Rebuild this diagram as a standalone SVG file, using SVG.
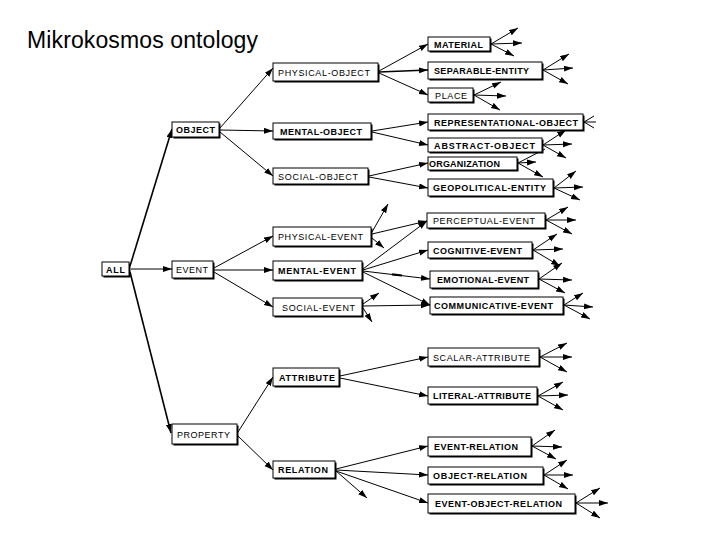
<svg xmlns="http://www.w3.org/2000/svg" width="720" height="540" viewBox="0 0 720 540">
<style>
.bx{fill:#fff;stroke:#000;stroke-width:1}
.sh{fill:#000}
.t{font-family:"Liberation Sans",Arial,sans-serif;font-size:9px;fill:#000}
.b{font-weight:bold}
.c line{stroke:#000;stroke-width:1;marker-end:url(#ah)}
.c .k{stroke-width:1.6}
.c .n{marker-end:none}
.title{font-family:"Liberation Sans",Arial,sans-serif;font-size:23px;fill:#000}
</style>
<defs>
<marker id="ah" markerUnits="userSpaceOnUse" markerWidth="10" markerHeight="7" refX="9" refY="3" orient="auto">
<path d="M0,0 L9,3 L0,6 z" fill="#000"/>
</marker>
</defs>
<rect width="720" height="540" fill="#fff"/>
<text class="title" x="27" y="48" textLength="231">Mikrokosmos ontology</text>

<g class="c" id="connectors">
<line class="k" x1="130" y1="266" x2="172" y2="129"/>
<line x1="131" y1="269" x2="172" y2="269"/>
<line class="k" x1="130" y1="272" x2="171" y2="433"/>
<line x1="220" y1="128" x2="273" y2="68"/>
<line x1="220" y1="130" x2="273" y2="131"/>
<line x1="220" y1="132" x2="273" y2="176"/>
<line x1="214" y1="268" x2="273" y2="236"/>
<line x1="214" y1="270" x2="273" y2="270"/>
<line x1="214" y1="272" x2="273" y2="307"/>
<line x1="238" y1="432" x2="273" y2="377"/>
<line x1="238" y1="436" x2="273" y2="470"/>
<line x1="379" y1="71" x2="428" y2="44"/>
<line class="k" x1="379" y1="72" x2="428" y2="70"/>
<line x1="379" y1="73" x2="428" y2="95"/>
<line x1="372" y1="131" x2="428" y2="122"/>
<line x1="372" y1="132" x2="428" y2="145"/>
<line x1="369" y1="176" x2="428" y2="163"/>
<line x1="369" y1="177" x2="428" y2="188"/>
<line x1="372" y1="234" x2="427" y2="221"/>
<line x1="372" y1="232" x2="388" y2="204"/>
<line x1="372" y1="238" x2="384" y2="248"/>
<line x1="363" y1="269" x2="427" y2="221"/>
<line x1="363" y1="270" x2="428" y2="250"/>
<line x1="363" y1="271" x2="430" y2="279"/>
<line x1="363" y1="272" x2="430" y2="305"/>
<line class="n" x1="392" y1="274.3" x2="402" y2="275.5" style="stroke-width:2.2"/>
<line x1="363" y1="306" x2="430" y2="305"/>
<line x1="363" y1="304" x2="379" y2="293"/>
<line x1="363" y1="308" x2="372" y2="322"/>
<line x1="340" y1="376" x2="428" y2="357"/>
<line x1="340" y1="378" x2="428" y2="396"/>
<line x1="336" y1="469" x2="428" y2="446"/>
<line x1="336" y1="470" x2="428" y2="475"/>
<line x1="336" y1="471" x2="428" y2="503"/>
<line x1="336" y1="471" x2="367" y2="498"/>
<line x1="491" y1="44" x2="518" y2="28"/>
<line x1="491" y1="44" x2="522" y2="43"/>
<line x1="491" y1="44" x2="514" y2="56"/>
<line x1="543" y1="70" x2="569" y2="54"/>
<line x1="543" y1="70" x2="573" y2="68"/>
<line x1="543" y1="70" x2="568" y2="84"/>
<line x1="474" y1="95" x2="501" y2="82"/>
<line x1="474" y1="95" x2="506" y2="96"/>
<line x1="474" y1="95" x2="500" y2="110"/>
<line class="n" x1="584" y1="122" x2="594" y2="116"/>
<line class="n" x1="584" y1="122" x2="596" y2="122"/>
<line class="n" x1="584" y1="122" x2="594" y2="128"/>
<line x1="543" y1="145" x2="566" y2="130"/>
<line x1="543" y1="145" x2="572" y2="144"/>
<line x1="543" y1="145" x2="566" y2="158"/>
<line class="n" x1="518" y1="163" x2="545" y2="149"/>
<line x1="518" y1="163" x2="536" y2="162"/>
<line x1="518" y1="163" x2="543" y2="177"/>
<line x1="554" y1="188" x2="576" y2="171"/>
<line x1="554" y1="188" x2="583" y2="187"/>
<line x1="554" y1="188" x2="580" y2="200"/>
<line x1="546" y1="220" x2="568" y2="207"/>
<line x1="546" y1="220" x2="576" y2="220"/>
<line x1="546" y1="220" x2="572" y2="234"/>
<line x1="533" y1="250" x2="557" y2="234"/>
<line x1="533" y1="250" x2="563" y2="249"/>
<line x1="533" y1="250" x2="560" y2="266"/>
<line x1="539" y1="279" x2="562" y2="263"/>
<line x1="539" y1="279" x2="572" y2="280"/>
<line x1="539" y1="279" x2="565" y2="293"/>
<line x1="564" y1="305" x2="583" y2="293"/>
<line x1="564" y1="305" x2="593" y2="307"/>
<line x1="564" y1="305" x2="590" y2="319"/>
<line x1="540" y1="357" x2="567" y2="343"/>
<line x1="540" y1="357" x2="572" y2="357"/>
<line x1="540" y1="357" x2="567" y2="372"/>
<line x1="538" y1="396" x2="563" y2="382"/>
<line x1="538" y1="396" x2="568" y2="395"/>
<line x1="538" y1="396" x2="563" y2="410"/>
<line x1="532" y1="446" x2="555" y2="430"/>
<line x1="532" y1="446" x2="562" y2="447"/>
<line x1="532" y1="446" x2="556" y2="459"/>
<line x1="544" y1="475" x2="567" y2="460"/>
<line x1="544" y1="475" x2="573" y2="475"/>
<line x1="544" y1="475" x2="568" y2="489"/>
<line x1="576" y1="503" x2="600" y2="488"/>
<line x1="576" y1="503" x2="608" y2="503"/>
<line x1="576" y1="503" x2="600" y2="518"/>
</g>

<g id="n-all"><rect class="sh" x="103.5" y="263.5" width="27" height="14"/><rect class="bx" x="102" y="262" width="27" height="14"/><text class="t b" x="106" y="272.5" textLength="19">ALL</text></g>
<g id="n-object"><rect class="sh" x="173.5" y="123.5" width="47" height="15"/><rect class="bx" x="172" y="122" width="47" height="15"/><text class="t b" x="176" y="133" textLength="39">OBJECT</text></g>
<g id="n-event"><rect class="sh" x="173.5" y="262.5" width="41" height="17"/><rect class="bx" x="172" y="261" width="41" height="17"/><text class="t" x="176" y="273" textLength="32">EVENT</text></g>
<g id="n-property"><rect class="sh" x="173.5" y="425.5" width="65" height="20"/><rect class="bx" x="172" y="424" width="65" height="20"/><text class="t" x="177" y="437.5" textLength="53">PROPERTY</text></g>

<g id="n-physical-object"><rect class="sh" x="274.5" y="64.5" width="105" height="18"/><rect class="bx" x="273" y="63" width="105" height="18"/><text class="t" x="278" y="75.5" textLength="92">PHYSICAL-OBJECT</text></g>
<g id="n-mental-object"><rect class="sh" x="274.5" y="124.5" width="98" height="16"/><rect class="bx" x="273" y="123" width="98" height="16"/><text class="t b" x="280" y="134.5" textLength="82">MENTAL-OBJECT</text></g>
<g id="n-social-object"><rect class="sh" x="274.5" y="169.5" width="95" height="16"/><rect class="bx" x="273" y="168" width="95" height="16"/><text class="t" x="278" y="179.5" textLength="80">SOCIAL-OBJECT</text></g>
<g id="n-physical-event"><rect class="sh" x="274.5" y="228.5" width="98" height="19"/><rect class="bx" x="273" y="227" width="98" height="19"/><text class="t" x="278" y="240" textLength="85">PHYSICAL-EVENT</text></g>
<g id="n-mental-event"><rect class="sh" x="274.5" y="262.5" width="89" height="19"/><rect class="bx" x="273" y="261" width="89" height="19"/><text class="t b" x="278" y="274" textLength="78">MENTAL-EVENT</text></g>
<g id="n-social-event"><rect class="sh" x="274.5" y="299.5" width="89" height="18"/><rect class="bx" x="273" y="298" width="89" height="18"/><text class="t" x="282" y="310.5" textLength="73">SOCIAL-EVENT</text></g>
<g id="n-attribute"><rect class="sh" x="274.5" y="369.5" width="66" height="18"/><rect class="bx" x="273" y="368" width="66" height="18"/><text class="t b" x="279" y="380.5" textLength="56">ATTRIBUTE</text></g>
<g id="n-relation"><rect class="sh" x="274.5" y="462.5" width="62" height="17"/><rect class="bx" x="273" y="461" width="62" height="17"/><text class="t b" x="278" y="473" textLength="50">RELATION</text></g>

<g id="n-material"><rect class="sh" x="429.5" y="38.5" width="62" height="14"/><rect class="bx" x="428" y="37" width="62" height="14"/><text class="t b" x="434" y="47.5" textLength="49">MATERIAL</text></g>
<g id="n-separable-entity"><rect class="sh" x="429.5" y="63.5" width="114" height="17"/><rect class="bx" x="428" y="62" width="114" height="17"/><text class="t b" x="434" y="74" textLength="95">SEPARABLE-ENTITY</text></g>
<g id="n-place"><rect class="sh" x="429.5" y="89.5" width="45" height="14"/><rect class="bx" x="428" y="88" width="45" height="14"/><text class="t" x="435" y="98.5" textLength="32">PLACE</text></g>
<g id="n-representational-object"><rect class="sh" x="429.5" y="115.5" width="155" height="16"/><rect class="bx" x="428" y="114" width="155" height="16"/><text class="t b" x="434" y="125.5" textLength="144">REPRESENTATIONAL-OBJECT</text></g>
<g id="n-abstract-object"><rect class="sh" x="429.5" y="139.5" width="114" height="14"/><rect class="bx" x="428" y="138" width="114" height="14"/><text class="t b" x="434" y="148.5" textLength="101">ABSTRACT-OBJECT</text></g>
<g id="n-organization"><rect class="sh" x="429.5" y="158.5" width="89" height="13"/><rect class="bx" x="428" y="157" width="89" height="13"/><text class="t b" x="429" y="166.5" textLength="71">ORGANIZATION</text></g>
<g id="n-geopolitical-entity"><rect class="sh" x="429.5" y="180.5" width="125" height="17"/><rect class="bx" x="428" y="179" width="125" height="17"/><text class="t b" x="433" y="191" textLength="113">GEOPOLITICAL-ENTITY</text></g>
<g id="n-perceptual-event"><rect class="sh" x="428.5" y="214.5" width="118" height="15"/><rect class="bx" x="427" y="213" width="118" height="15"/><text class="t" x="433" y="224" textLength="102">PERCEPTUAL-EVENT</text></g>
<g id="n-cognitive-event"><rect class="sh" x="429.5" y="243.5" width="104" height="16"/><rect class="bx" x="428" y="242" width="104" height="16"/><text class="t b" x="433" y="253.5" textLength="89">COGNITIVE-EVENT</text></g>
<g id="n-emotional-event"><rect class="sh" x="431.5" y="272.5" width="108" height="17"/><rect class="bx" x="430" y="271" width="108" height="17"/><text class="t b" x="437" y="283" textLength="92">EMOTIONAL-EVENT</text></g>
<g id="n-communicative-event"><rect class="sh" x="431.5" y="298.5" width="133" height="17"/><rect class="bx" x="430" y="297" width="133" height="17"/><text class="t b" x="434" y="309" textLength="119">COMMUNICATIVE-EVENT</text></g>
<g id="n-scalar-attribute"><rect class="sh" x="429.5" y="349.5" width="111" height="18"/><rect class="bx" x="428" y="348" width="111" height="18"/><text class="t" x="433" y="360.5" textLength="97">SCALAR-ATTRIBUTE</text></g>
<g id="n-literal-attribute"><rect class="sh" x="429.5" y="388.5" width="109" height="17"/><rect class="bx" x="428" y="387" width="109" height="17"/><text class="t b" x="433" y="399" textLength="98">LITERAL-ATTRIBUTE</text></g>
<g id="n-event-relation"><rect class="sh" x="429.5" y="438.5" width="103" height="19"/><rect class="bx" x="428" y="437" width="103" height="19"/><text class="t b" x="434" y="450" textLength="84">EVENT-RELATION</text></g>
<g id="n-object-relation"><rect class="sh" x="429.5" y="468.5" width="115" height="17"/><rect class="bx" x="428" y="467" width="115" height="17"/><text class="t b" x="433" y="479" textLength="94">OBJECT-RELATION</text></g>
<g id="n-event-object-relation"><rect class="sh" x="429.5" y="495.5" width="147" height="19"/><rect class="bx" x="428" y="494" width="147" height="19"/><text class="t b" x="435" y="507" textLength="127">EVENT-OBJECT-RELATION</text></g>
</svg>
